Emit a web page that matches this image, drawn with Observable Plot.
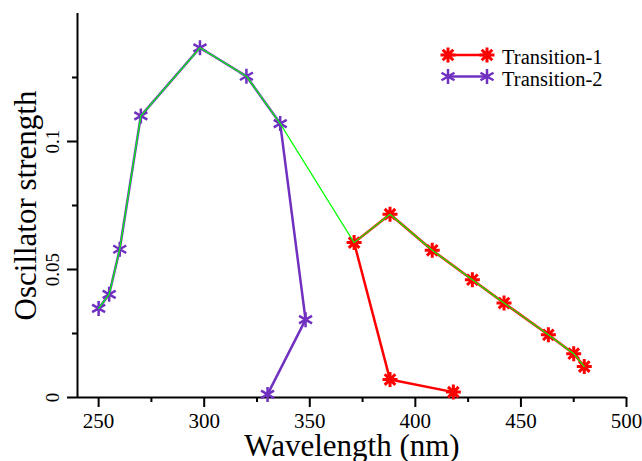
<!DOCTYPE html>
<html>
<head>
<meta charset="utf-8">
<script src="https://cdn.jsdelivr.net/npm/d3@7"></script>
<script src="https://cdn.jsdelivr.net/npm/@observablehq/plot@0.6"></script>
<style>
  body { margin: 0; background: #fff; }
  #wrap { position: relative; width: 642px; height: 461px; font-family: "Liberation Serif", "Times New Roman", serif; }
  #wrap svg text { font-family: "Liberation Serif", "Times New Roman", serif; }
  #legend { position: absolute; left: 435px; top: 40px; }
</style>
</head>
<body>
<div id="wrap"></div>
<script>
// ---- data ----
const seriesNames = ["Transition-1", "Transition-2"];
const seriesColors = ["#ff0000", "#7030c0"];
const envColor = "#00ff00";

// Transition-1 (red), drawn in path order
const t1Wave = [418, 388, 371, 388, 408, 427, 442, 463, 475, 480];
const t1Osc  = [0.0021, 0.0070, 0.0605, 0.0716, 0.0575, 0.0460, 0.0369, 0.0245, 0.0171, 0.0121];

// Transition-2 (purple), drawn in path order
const t2Wave = [250, 255, 260, 270, 298, 320, 336, 348, 330];
const t2Osc  = [0.0348, 0.0403, 0.0579, 0.1100, 0.1366, 0.1255, 0.1070, 0.0304, 0.0012];

// upper envelope (thin green line)
const envWave = [250, 255, 260, 270, 298, 320, 336, 371, 388, 408, 427, 442, 463, 475, 480];
const envOsc  = [0.0348, 0.0403, 0.0579, 0.1100, 0.1366, 0.1255, 0.1070, 0.0605, 0.0716, 0.0575, 0.0460, 0.0369, 0.0245, 0.0171, 0.0121];

const xDomain = [240, 500];
const yDomain = [0, 0.15];
const xMajor = [250, 300, 350, 400, 450, 500];
const xMinor = [275, 325, 375, 425, 475];
const yMajor = [0, 0.05, 0.1];
const yMinor = [0.025, 0.075, 0.125];
const xTitle = "Wavelength (nm)";
const yTitle = "Oscillator strength";

const FONT = '"Liberation Serif", "Times New Roman", serif';

// ---- markers ----
const star8 = {
  draw(ctx, size) {
    const r = Math.sqrt(size / Math.PI);
    for (let k = 0; k < 4; k++) {
      const a = k * Math.PI / 4, c = Math.cos(a) * r, s = Math.sin(a) * r;
      ctx.moveTo(-c, -s); ctx.lineTo(c, s);
    }
  }
};
const star6 = {
  draw(ctx, size) {
    const r = Math.sqrt(size / Math.PI);
    for (let k = 0; k < 3; k++) {
      const a = Math.PI / 2 + k * Math.PI / 3, c = Math.cos(a) * r, s = Math.sin(a) * r;
      ctx.moveTo(-c, -s); ctx.lineTo(c, s);
    }
  }
};

const t1 = t1Wave.map((w, i) => ({w, o: t1Osc[i]}));
const t2 = t2Wave.map((w, i) => ({w, o: t2Osc[i]}));
const env = envWave.map((w, i) => ({w, o: envOsc[i]}));

const fmt = d => String(d);

const chart = Plot.plot({
  width: 642,
  height: 461,
  marginLeft: 77,
  marginRight: 16,
  marginTop: 13,
  marginBottom: 64,
  style: {fontFamily: FONT, background: "#fff", color: "#000"},
  x: {domain: xDomain},
  y: {domain: yDomain},
  marks: [
    Plot.axisX({ticks: xMajor, tickSize: 10, tickPadding: 6, fontSize: 21, fontFamily: FONT, strokeWidth: 2, tickFormat: fmt, label: null}),
    Plot.axisX({ticks: xMinor, tickSize: 5, strokeWidth: 2, tickFormat: () => "", label: null}),
    Plot.axisY({ticks: yMajor, tickSize: 10, tickPadding: 9, tickRotate: -90, fontSize: 19, fontFamily: FONT, strokeWidth: 2, tickFormat: fmt, label: null}),
    Plot.axisY({ticks: yMinor, tickSize: 5, strokeWidth: 2, tickFormat: () => "", label: null}),
    Plot.ruleX([xDomain[0]], {strokeWidth: 2}),
    Plot.ruleY([yDomain[0]], {strokeWidth: 2}),
    Plot.text([xTitle], {frameAnchor: "bottom", dy: 58, lineAnchor: "bottom", textAnchor: "middle", fontSize: 31, fontFamily: FONT}),
    Plot.text([yTitle], {frameAnchor: "left", dx: -42, rotate: -90, lineAnchor: "bottom", textAnchor: "middle", fontSize: 31, fontFamily: FONT}),
    Plot.line(t1, {x: "w", y: "o", stroke: seriesColors[0], strokeWidth: 2.5}),
    Plot.dot(t1, {x: "w", y: "o", symbol: star8, r: 7.5, stroke: seriesColors[0], strokeWidth: 3, fill: "none"}),
    Plot.line(t2, {x: "w", y: "o", stroke: seriesColors[1], strokeWidth: 2.5}),
    Plot.dot(t2, {x: "w", y: "o", symbol: star6, r: 7.5, stroke: seriesColors[1], strokeWidth: 2.5, fill: "none"}),
    Plot.line(env, {x: "w", y: "o", stroke: envColor, strokeWidth: 1.2})
  ]
});
document.getElementById("wrap").appendChild(chart);

// ---- legend ----
const leg = d3.select("#wrap").append("svg").attr("id", "legend")
  .attr("width", 200).attr("height", 55);
const symbols = [star8, star6];
const widths = [3, 2.5];
seriesNames.forEach((name, i) => {
  const y = 15 + i * 21.5;
  const g = leg.append("g");
  g.append("line").attr("x1", 13).attr("x2", 52).attr("y1", y).attr("y2", y)
    .attr("stroke", seriesColors[i]).attr("stroke-width", 2.5);
  [13, 52].forEach(x => {
    g.append("path").attr("d", d3.symbol(symbols[i], Math.PI * 7.5 * 7.5)())
      .attr("transform", `translate(${x},${y})`)
      .attr("stroke", seriesColors[i]).attr("stroke-width", widths[i]).attr("fill", "none");
  });
  g.append("text").attr("x", 67).attr("y", y + 9)
    .style("font-family", FONT).attr("font-size", 20.5)
    .attr("fill", "#000").text(name);
});
</script>
</body>
</html>
